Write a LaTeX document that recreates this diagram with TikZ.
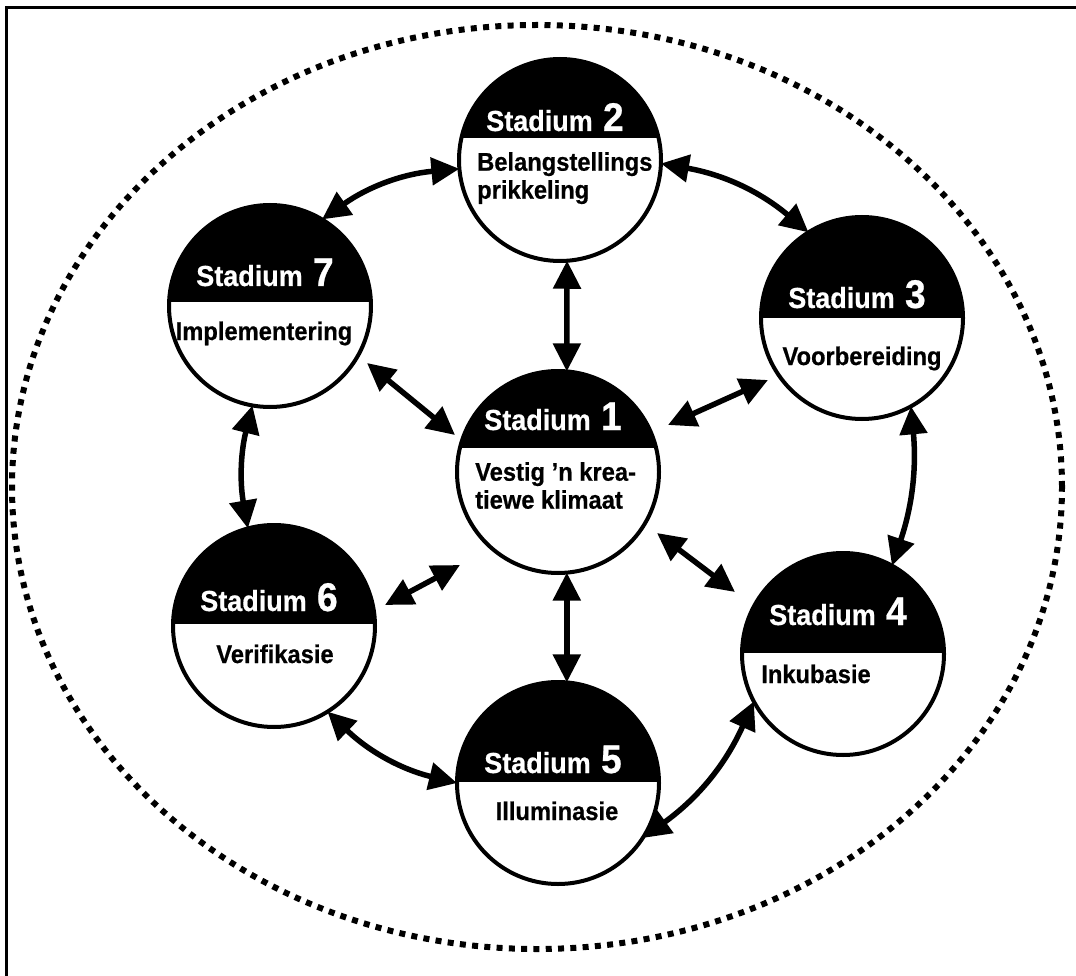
\documentclass[tikz,border=0pt]{standalone}
\usepackage{fontspec}
\setmainfont{Liberation Sans}
\newfontfamily\stagefont{Liberation Sans}[FakeStretch=0.93, FakeBold=0.6]
\usetikzlibrary{arrows.meta,calc}

\newcommand{\numfont}{\fontsize{40}{42}\selectfont}

% One stage: circle with a black cap holding "Stadium n"
% #1 name, #2 #3 centre, #4 y of the cap's lower edge, #5 label baseline, #6 number
\newcommand{\stadium}[6]{%
  \node[stage] (#1) at (#2,#3) {};
  \begin{scope}
    \clip (#2,#3) circle (101pt);
    \fill (#2-110,#3-110) rectangle (#2+110,#4);
  \end{scope}
  \draw[rim] (#2,#3) circle (101pt);
  \node[stagelabel] (#1lbl) at (#2-5,#5) {Stadium\numfont\ #6};
}

\begin{document}
\begin{tikzpicture}[x=1pt,y=-1pt,
  stage/.style={circle, minimum size=202pt, inner sep=0pt, outer sep=0pt},
  rim/.style={line width=4pt},
  stagelabel/.style={anchor=base, inner sep=0pt, text=white,
    font=\stagefont\bfseries\fontsize{29}{31}\selectfont},
  body/.style={inner sep=0pt, font=\stagefont\bfseries\fontsize{25.5}{28}\selectfont},
  link/.style={line width=5.5pt,
    {Triangle[length=28pt,width=27pt]}-{Triangle[length=28pt,width=27pt]}},
]
\useasboundingbox (0,0) rectangle (1076,976);

% frame
\draw[line width=3pt] (6.5,976) -- (6.5,7.5) -- (1076,7.5);

% dotted outer ring
\draw[line width=6pt, dash pattern=on 6pt off 6.3pt]
  (537,487) ellipse [x radius=525pt, y radius=462pt];

% stages
\stadium{s1}{558}{472}{448}{430}{1}
\stadium{s2}{560}{160}{138}{131}{2}
\stadium{s3}{862}{318}{318}{308}{3}
\stadium{s4}{843}{654}{653}{625}{4}
\stadium{s5}{558}{783}{782}{773}{5}
\stadium{s6}{274}{626}{624}{611}{6}
\stadium{s7}{270}{306}{302}{286}{7}

% texts
\node[body, align=left, anchor=north west] (t1) at (475,462) {Vestig ’n krea-\\tiewe klimaat};
\node[body, align=left, anchor=north west] (t2) at (477,152) {Belangstellings\\prikkeling};
\node[body, anchor=base] (t3) at (862,365) {Voorbereiding};
\node[body, anchor=base] (t4) at (816,683) {Inkubasie};
\node[body, anchor=base] (t5) at (557,820) {Illuminasie};
\node[body, anchor=base] (t6) at (275,663) {Verifikasie};
\node[body, anchor=base] (t7) at (264,340) {Implementering};

% spokes from the centre
\draw[link] (s2.-86) -- (s1.85);
\draw[link] (s1.-85) -- (s5.85);
\draw[link] ([shift={(110,-47)}]s1.center) -- ([shift={(-94,62)}]s3.center);
\draw[link] ([shift={(99,61)}]s1.center) -- ([shift={(-108,-62)}]s4.center);
\draw[link] ([shift={(111,-21)}]s6.center) -- ([shift={(-98,93)}]s1.center);
\draw[link] ([shift={(97,57)}]s7.center) -- ([shift={(-103,-37)}]s1.center);

% ring
\draw[link] (s2.-2) to[bend left=15] (s3.122);
\draw[link] (s3.-61) to[bend left=12] (s4.61);
\draw[link] (s4.-152) to[bend left=15] (s5.-33);
\draw[link] (s5.180) to[bend left=15] (s6.-58);
\draw[link] (s6.105) to[bend left=12] (s7.-100);
\draw[link] (s7.59) to[bend left=15] (s2.-175);
\end{tikzpicture}
\end{document}
